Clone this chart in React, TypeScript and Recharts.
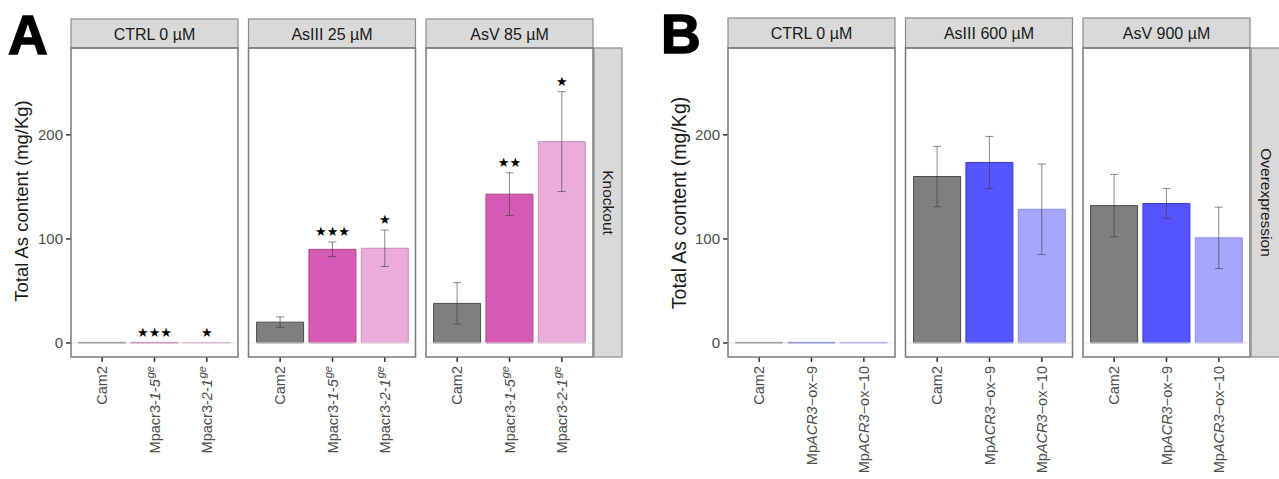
import { ComposedChart, Bar, Cell, XAxis, YAxis, ErrorBar, Scatter, ReferenceLine } from 'recharts'

const FONT = '"Liberation Sans", Arial, sans-serif'

// Panel A – knockout lines
const genotypesA = ['Cam2', 'Mpacr3-1-5', 'Mpacr3-2-1']
const treatmentsA = ['CTRL 0 µM', 'AsIII 25 µM', 'AsV 85 µM']
const meansA = [
  [0.5, 0.5, 0.5],
  [20, 90, 91],
  [38, 143, 193.5],
]
const errorsA = [
  [0, 0, 0],
  [5, 7, 17.5],
  [20, 20.5, 48],
]
const starsA = [
  ['', '★★★', '★'],
  ['', '★★★', '★'],
  ['', '★★', '★'],
]
const fillsA = ['#7f7f7f', '#d45ab4', '#e9acdb']
const strokesA = ['#4a4a4a', '#b0408f', '#d08cc0']

// Panel B – overexpression lines
const genotypesB = ['Cam2', 'MpACR3−ox−9', 'MpACR3−ox−10']
const treatmentsB = ['CTRL 0 µM', 'AsIII 600 µM', 'AsV 900 µM']
const meansB = [
  [0.5, 0.5, 0.5],
  [160, 173.5, 128.5],
  [132, 134, 101],
]
const errorsB = [
  [0, 0, 0],
  [29, 25, 43.5],
  [30, 14.5, 29.5],
]
const starsB = [
  ['', '', ''],
  ['', '', ''],
  ['', '', ''],
]
const fillsB = ['#7f7f7f', '#5555ff', '#a6a6fc']
const strokesB = ['#4a4a4a', '#3a3ad0', '#8c8ce0']

const yTicks = [0, 100, 200]

const PANEL_TOP = 48
const PANEL_H = 309
const PANEL_W = 167
const XAXIS_H = 122
const leftsA = [71, 248.5, 426]
const leftsB = [728, 905.5, 1083]

function TickLabel({ x, y, payload }: any) {
  const name: string = payload.value
  let parts: JSX.Element
  if (name.startsWith('Mpacr3-')) {
    parts = (
      <>
        <tspan>Mpacr3-</tspan>
        <tspan fontStyle="italic">{name.slice(7)}</tspan>
        <tspan fontStyle="italic" fontSize={11} dx="1" dy="-0.55em">ge</tspan>
      </>
    )
  } else if (name.startsWith('MpACR3')) {
    parts = (
      <>
        <tspan>Mp</tspan>
        <tspan fontStyle="italic">ACR3</tspan>
        <tspan>{name.slice(6)}</tspan>
      </>
    )
  } else {
    parts = <tspan>{name}</tspan>
  }
  return (
    <g transform={`translate(${x},${y})`}>
      <text transform="rotate(-90)" textAnchor="end" dy="0.36em" fontSize={14.5} fill="#4d4d4d" fontFamily={FONT}>
        {parts}
      </text>
    </g>
  )
}

function StarShape({ cx, cy, payload }: any) {
  if (!payload || !payload.stars) return <g />
  return (
    <text x={cx} y={cy} textAnchor="middle" dominantBaseline="central" fontSize={13} fill="#000" fontFamily='"DejaVu Sans"'>
      {payload.stars}
    </text>
  )
}

interface FacetProps {
  left: number
  yAxis: boolean
  genotypes: string[]
  means: number[]
  errors: number[]
  stars: string[]
  fills: string[]
  strokes: string[]
}

function Facet({ left, yAxis, genotypes, means, errors, stars, fills, strokes }: FacetProps) {
  const data = genotypes.map((g, i) => ({
    genotype: g,
    mean: means[i],
    err: errors[i],
    stars: stars[i],
    starY: stars[i] ? means[i] + errors[i] + 10 : null,
  }))
  const axisW = yAxis ? 40 : 0
  const hasErr = errors.some((e) => e > 0)
  const hasStars = stars.some((s) => s)

  return (
    <div style={{ position: 'absolute', left: left - axisW, top: PANEL_TOP }}>
      <ComposedChart
        width={PANEL_W + axisW}
        height={PANEL_H + XAXIS_H}
        data={data}
        margin={{ top: 0, right: 0, bottom: 0, left: 0 }}
        barCategoryGap={2.6}
      >
        <XAxis
          dataKey="genotype"
          type="category"
          interval={0}
          height={XAXIS_H}
          padding={{ left: 5, right: 5 }}
          axisLine={false}
          tickSize={5}
          tickMargin={4}
          tickLine={{ stroke: '#333', strokeWidth: 1.5 }}
          tick={<TickLabel />}
        />
        <YAxis
          type="number"
          hide={!yAxis}
          width={axisW}
          domain={[-13.5, 283.5]}
          allowDataOverflow
          ticks={yTicks}
          axisLine={false}
          tickSize={5}
          tickMargin={3}
          tickLine={{ stroke: '#333', strokeWidth: 1.5 }}
          tick={{ fontSize: 15, fill: '#4d4d4d', fontFamily: FONT }}
        />
        <ReferenceLine y={0} stroke="#e6e6e6" strokeWidth={1} />
        <Bar dataKey="mean" isAnimationActive={false} strokeWidth={1}>
          {data.map((d, i) => (
            <Cell key={d.genotype} fill={fills[i]} stroke={strokes[i]} />
          ))}
          {hasErr && (
            <ErrorBar dataKey="err" width={4} stroke="#3c3c3c" strokeOpacity={0.6} strokeWidth={1} />
          )}
        </Bar>
        {hasStars && <Scatter dataKey="starY" isAnimationActive={false} shape={<StarShape />} />}
      </ComposedChart>
    </div>
  )
}

function Frames({ lefts, labels, stripTop }: { lefts: number[]; labels: string[]; stripTop: number }) {
  return (
    <>
      {lefts.map((l, i) => (
        <g key={labels[i]}>
          <rect x={l} y={stripTop} width={PANEL_W} height={PANEL_TOP - stripTop} fill="#d9d9d9" stroke="#8c8c8c" strokeWidth={1.2} />
          <text x={l + PANEL_W / 2} y={(stripTop + PANEL_TOP) / 2 + 0.5} textAnchor="middle" dominantBaseline="central" fontSize={16} fill="#1a1a1a" fontFamily={FONT}>
            {labels[i]}
          </text>
          <rect x={l} y={PANEL_TOP} width={PANEL_W} height={PANEL_H} fill="none" stroke="#7a7a7a" strokeWidth={1.5} />
        </g>
      ))}
    </>
  )
}

export default function App() {
  return (
    <div style={{ position: 'absolute', left: 0, top: 0, width: 1279, height: 479, background: '#fff', overflow: 'hidden', fontFamily: FONT }}>
      {leftsA.map((l, i) => (
        <Facet
          key={'A' + i}
          left={l}
          yAxis={i === 0}
          genotypes={genotypesA}
          means={meansA[i]}
          errors={errorsA[i]}
          stars={starsA[i]}
          fills={fillsA}
          strokes={strokesA}
        />
      ))}
      {leftsB.map((l, i) => (
        <Facet
          key={'B' + i}
          left={l}
          yAxis={i === 0}
          genotypes={genotypesB}
          means={meansB[i]}
          errors={errorsB[i]}
          stars={starsB[i]}
          fills={fillsB}
          strokes={strokesB}
        />
      ))}
      <svg width={1279} height={479} style={{ position: 'absolute', left: 0, top: 0, pointerEvents: 'none' }}>
        <Frames lefts={leftsA} labels={treatmentsA} stripTop={19} />
        <Frames lefts={leftsB} labels={treatmentsB} stripTop={18} />

        <rect x={594} y={PANEL_TOP} width={28} height={PANEL_H} fill="#d9d9d9" stroke="#8c8c8c" strokeWidth={1.2} />
        <text transform="translate(608,202.5) rotate(90)" textAnchor="middle" dominantBaseline="central" fontSize={15.5} fill="#1a1a1a" fontFamily={FONT}>
          Knockout
        </text>
        <rect x={1251} y={PANEL_TOP} width={30} height={PANEL_H} fill="#d9d9d9" stroke="#8c8c8c" strokeWidth={1.2} />
        <text transform="translate(1266,202.5) rotate(90)" textAnchor="middle" dominantBaseline="central" fontSize={15.5} fill="#1a1a1a" fontFamily={FONT}>
          Overexpression
        </text>

        <text x={8} y={54} fontSize={55} fontWeight={900} fill="#000" stroke="#000" strokeWidth={1.5} fontFamily={FONT}>A</text>
        <text x={661} y={53} fontSize={55} fontWeight={900} fill="#000" stroke="#000" strokeWidth={1.5} fontFamily={FONT}>B</text>

        <text transform="translate(21,201) rotate(-90)" textAnchor="middle" dominantBaseline="central" fontSize={18.5} fill="#1a1a1a" fontFamily={FONT}>
          Total As content (mg/Kg)
        </text>
        <text transform="translate(679,203) rotate(-90)" textAnchor="middle" dominantBaseline="central" fontSize={19.5} fill="#1a1a1a" fontFamily={FONT}>
          Total As content (mg/Kg)
        </text>
      </svg>
    </div>
  )
}
